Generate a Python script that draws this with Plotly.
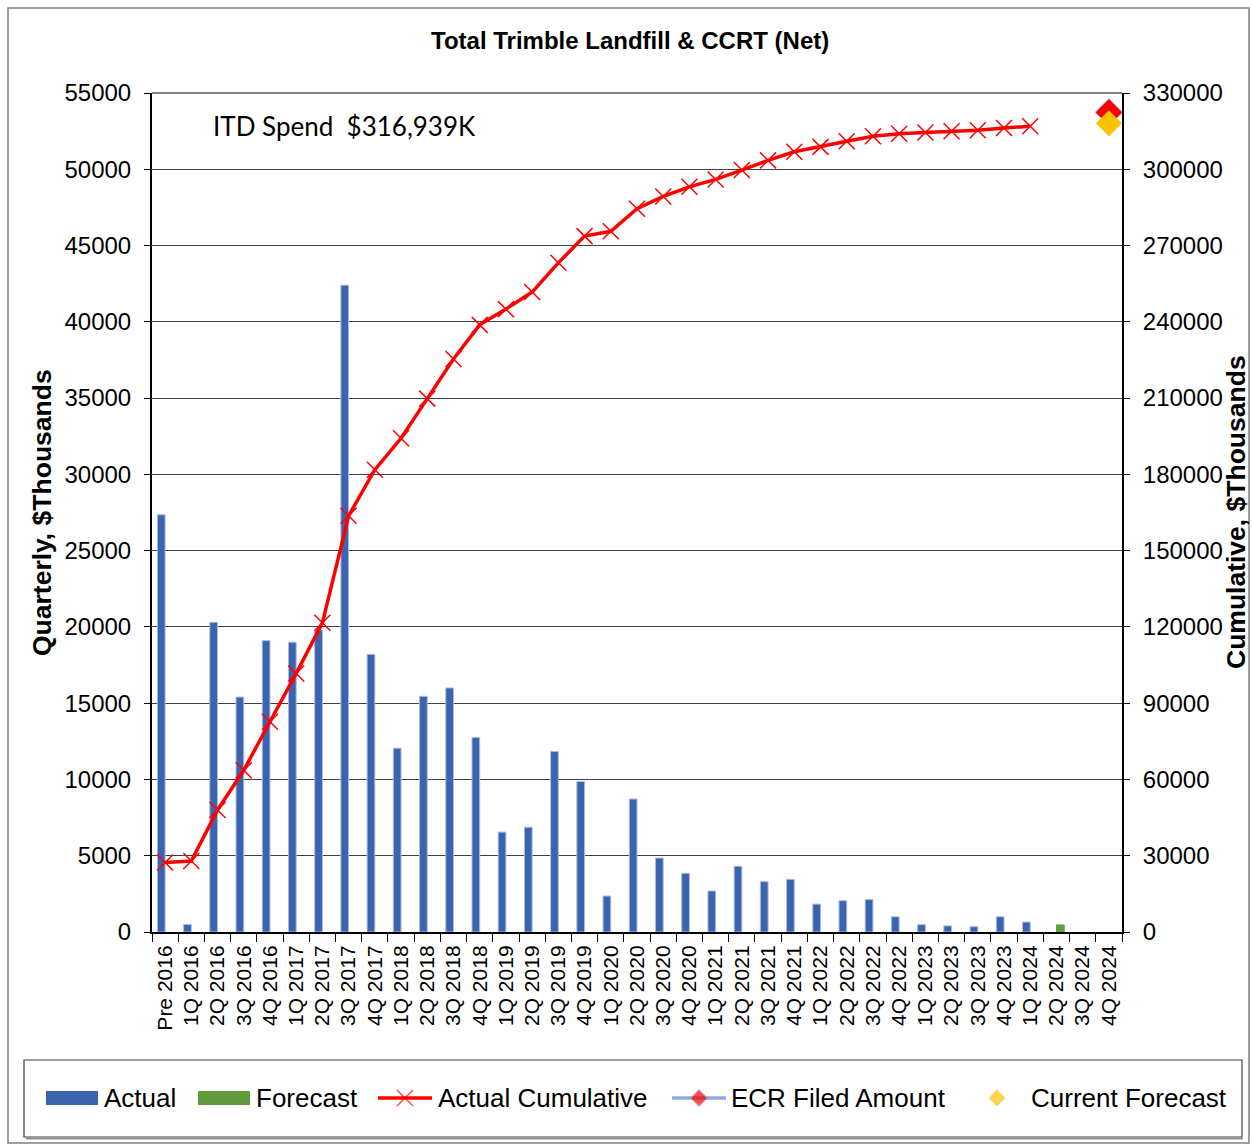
import plotly.graph_objects as go

categories = ["Pre 2016",
              "1Q 2016", "2Q 2016", "3Q 2016", "4Q 2016",
              "1Q 2017", "2Q 2017", "3Q 2017", "4Q 2017",
              "1Q 2018", "2Q 2018", "3Q 2018", "4Q 2018",
              "1Q 2019", "2Q 2019", "3Q 2019", "4Q 2019",
              "1Q 2020", "2Q 2020", "3Q 2020", "4Q 2020",
              "1Q 2021", "2Q 2021", "3Q 2021", "4Q 2021",
              "1Q 2022", "2Q 2022", "3Q 2022", "4Q 2022",
              "1Q 2023", "2Q 2023", "3Q 2023", "4Q 2023",
              "1Q 2024", "2Q 2024", "3Q 2024", "4Q 2024"]

actual = [27350,
          500, 20300, 15400, 19100,
          19000, 19800, 42400, 18200,
          12050, 15450, 16000, 12750,
          6550, 6870, 11840, 9860,
          2360, 8720, 4850, 3850,
          2690, 4310, 3300, 3450,
          1830, 2050, 2120, 1000,
          480, 400, 350, 1000,
          650, None, None, None]

forecast = [None] * 34 + [460, None, None]

actual_cumulative = [27300,
                     27900, 48000, 63600, 82700,
                     101700, 121600, 163700, 181850,
                     194200, 209800, 225400, 238800,
                     245000, 251700, 263200, 273700,
                     275600, 284500, 289300, 293100,
                     296000, 299700, 303500, 306900,
                     308800, 311000, 313000, 314000,
                     314430, 314950, 315340, 316250,
                     316939, None, None, None]

ecr_category = ["4Q 2024"]
ecr_filed = [322400]
current_forecast_category = ["4Q 2024"]
current_forecast = [318100]

itd_text = "ITD Spend  $316,939K"
legend_names = ["Actual", "Forecast", "Actual Cumulative", "ECR Filed Amount", "Current Forecast"]

FONT = "Liberation Sans, Arial, sans-serif"
W, H = 1252, 1144
PL, PR, PT, PB = 152, 1122, 93, 932   # plot area in page pixels

BLUE = "#3C64AE"
GREEN = "#629B3E"
RED = "#FF0000"
LBLUE = "#8FAADC"
GOLD = "#FFC000"

fig = go.Figure()
fig.add_trace(go.Bar(name="Actual", x=categories, y=actual,
                     marker=dict(color=BLUE, line=dict(color="#A9BDE3", width=1))))
fig.add_trace(go.Bar(name="Forecast", x=categories, y=forecast,
                     marker=dict(color=GREEN, line=dict(color=GREEN, width=1))))
fig.add_trace(go.Scatter(name="Actual Cumulative", x=categories, y=actual_cumulative,
                         yaxis="y2", mode="lines+markers",
                         line=dict(color=RED, width=3.5),
                         marker=dict(symbol="x-thin", size=16, color=RED,
                                     line=dict(color=RED, width=1.5))))
fig.add_trace(go.Scatter(name="ECR Filed Amount", x=ecr_category, y=ecr_filed,
                         yaxis="y2", mode="lines+markers",
                         line=dict(color=LBLUE, width=3),
                         marker=dict(symbol="diamond", size=21, color=RED,
                                     line=dict(color=LBLUE, width=1))))
fig.add_trace(go.Scatter(name="Current Forecast", x=current_forecast_category, y=current_forecast,
                         yaxis="y2", mode="markers",
                         marker=dict(symbol="diamond", size=20, color=GOLD)))

# legend symbol markers, drawn on a pixel-space overlay axis
legend_y = 1098
legend_sym_x = [405, 699, 997]
fig.add_trace(go.Scatter(x=legend_sym_x, y=[legend_y] * 3, xaxis="x3", yaxis="y3",
                         mode="markers", showlegend=False, hoverinfo="skip",
                         marker=dict(symbol=["x-thin", "diamond", "diamond"],
                                     size=[16, 13, 13], color=[RED, RED, GOLD],
                                     line=dict(color=[RED, LBLUE, GOLD], width=[1.5, 1, 0]))))

fig.update_layout(
    width=W, height=H,
    margin=dict(l=0, r=0, t=0, b=0, pad=0, autoexpand=False),
    paper_bgcolor="white", plot_bgcolor="rgba(0,0,0,0)",
    font=dict(family=FONT, color="black", size=24),
    barmode="group", bargap=0.41, bargroupgap=0,
    showlegend=False,
    xaxis=dict(domain=[PL / W, PR / W], anchor="y",
               type="category", categoryorder="array", categoryarray=categories,
               tickangle=-90, tickfont=dict(size=21), showgrid=False,
               showline=True, linecolor="black", linewidth=2,
               ticks="outside", ticklen=8, tickcolor="black", tickson="boundaries",
               ticklabelstandoff=3, automargin=False,
               range=[-0.5, len(categories) - 0.5]),
    yaxis=dict(domain=[1 - PB / H, 1 - PT / H], anchor="x",
               range=[0, 55000], dtick=5000, tickformat="d",
               showgrid=True, gridcolor="#404040", gridwidth=1.2,
               showline=True, linecolor="black", linewidth=2,
               ticks="outside", ticklen=6, tickcolor="black",
               ticklabelstandoff=8, automargin=False,
               tickfont=dict(size=24), zeroline=False),
    yaxis2=dict(range=[0, 330000], dtick=30000, tickformat="d", overlaying="y", side="right",
                anchor="x",
                showgrid=False, showline=True, linecolor="black", linewidth=2,
                ticks="outside", ticklen=6, tickcolor="black",
                ticklabelstandoff=8, automargin=False,
                tickfont=dict(size=24), zeroline=False),
    xaxis3=dict(domain=[0, 1], range=[0, W], visible=False, anchor="y3", fixedrange=True,
                automargin=False),
    yaxis3=dict(domain=[0, 1], range=[H, 0], visible=False, anchor="x3", fixedrange=True,
                automargin=False),
)

def px(x):
    return x / W

def py(y):
    return 1 - y / H

# plot top border
fig.add_shape(type="line", xref="paper", yref="paper", x0=px(PL), x1=px(PR), y0=py(PT), y1=py(PT),
              line=dict(color="#808080", width=2))
# outer chart border
fig.add_shape(type="rect", xref="paper", yref="paper",
              x0=px(8), x1=px(1249), y0=py(8), y1=py(1143),
              line=dict(color="#808080", width=1.5), layer="below")
# legend box + shadow
fig.add_shape(type="rect", xref="paper", yref="paper",
              x0=px(24), x1=px(1242), y0=py(1060), y1=py(1137),
              line=dict(color="#404040", width=1.2), layer="below")
fig.add_shape(type="line", xref="paper", yref="paper",
              x0=px(26), x1=px(1243), y0=py(1138.5), y1=py(1138.5),
              line=dict(color="#909090", width=2), layer="below")

# legend symbols: bars as boxes, lines as segments
fig.add_shape(type="rect", xref="paper", yref="paper", x0=px(46), x1=px(98),
              y0=py(1091), y1=py(1105), fillcolor=BLUE, line=dict(width=0))
fig.add_shape(type="rect", xref="paper", yref="paper", x0=px(198), x1=px(250),
              y0=py(1091), y1=py(1105), fillcolor=GREEN, line=dict(width=0))
fig.add_shape(type="line", xref="paper", yref="paper", x0=px(378), x1=px(432),
              y0=py(legend_y), y1=py(legend_y), line=dict(color=RED, width=3.5), layer="below")
fig.add_shape(type="line", xref="paper", yref="paper", x0=px(672), x1=px(726),
              y0=py(legend_y), y1=py(legend_y), line=dict(color=LBLUE, width=3.5), layer="below")

legend_text_x = [102, 254, 436, 729, 1029]
for name, lx in zip(legend_names, legend_text_x):
    fig.add_annotation(text=name, xref="paper", yref="paper", x=px(lx), y=py(legend_y),
                       xanchor="left", yanchor="middle", showarrow=False,
                       font=dict(size=26, family=FONT))

fig.add_annotation(text="<b>Total Trimble Landfill & CCRT (Net)</b>", xref="paper", yref="paper",
                   x=px(629.5), y=py(40), xanchor="center", yanchor="middle",
                   showarrow=False, font=dict(size=24, family=FONT))
fig.add_annotation(text=itd_text, xref="paper", yref="paper",
                   x=px(211), y=py(126), xanchor="left", yanchor="middle",
                   showarrow=False, font=dict(size=26, family="Lato, Open Sans, sans-serif"))
fig.add_annotation(text="<b>Quarterly, $Thousands</b>", xref="paper", yref="paper",
                   x=px(42), y=py(513), xanchor="center", yanchor="middle",
                   textangle=-90, showarrow=False, font=dict(size=26.5))
fig.add_annotation(text="<b>Cumulative, $Thousands</b>", xref="paper", yref="paper",
                   x=px(1236), y=py(512), xanchor="center", yanchor="middle",
                   textangle=-90, showarrow=False, font=dict(size=26.5))

fig.write_html("out.html", config={"displayModeBar": False},
               post_script="document.body.style.margin='0';")
